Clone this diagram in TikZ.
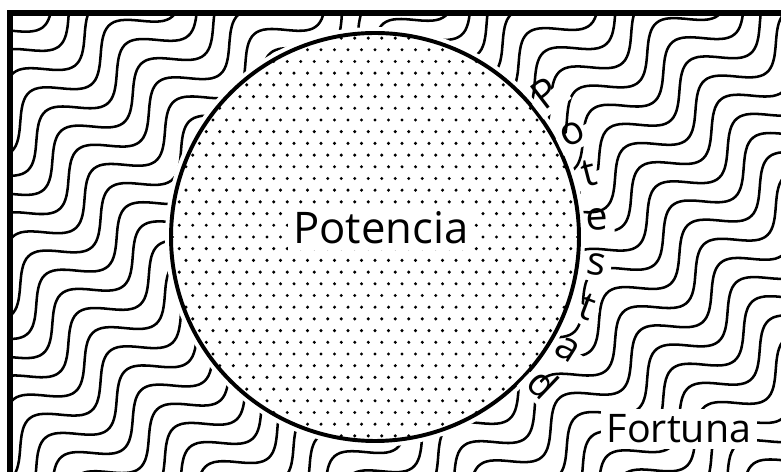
\documentclass[tikz,border=0pt]{standalone}
\usepackage{fontspec}
\setmainfont{Open Sans}
\usetikzlibrary{positioning}

\tikzset{
    wave/.style={line width=1.8pt, line cap=round},
    letter/.style={font=\fontsize{28}{28}\selectfont, fill=white, inner sep=4pt, text height=0.55em, text depth=0pt},
    bigword/.style={fill=white, inner sep=4pt},
}

\begin{document}
\begin{tikzpicture}[x=0.025cm, y=0.025cm]
    \useasboundingbox (0,0) rectangle (781,472);

    % Wavy background (Fortuna)
    \begin{scope}
        \clip (12,0) rectangle (781,456);
        \foreach \k in {-20,...,20} {
            \draw[wave] plot[smooth, domain=-480:480, samples=150]
                ({390 + \x*cos(40) - (\k*25 + 17*sin(\x*3.43))*sin(40)},
                 {236 + \x*sin(40) + (\k*25 + 17*sin(\x*3.43))*cos(40)});
        }
    \end{scope}

    % Frame (top and left edge only)
    \draw[line width=4.2pt] (10,-20) -- (10,459) -- (800,459);

    % Dotted disc
    \fill[white] (375,235) circle (210);
    \begin{scope}
        \clip (375,235) circle (204);
        \foreach \i in {-17,...,17} {
            \foreach \j in {-17,...,17} {
                \fill ({375 + 13.5*\j + 6.75*Mod(\i,2)}, {235 + 11.7*\i}) circle (1.7);
            }
        }
    \end{scope}
    \draw[line width=2.8pt] (375,235) circle (204);

    % Labels
    \node[bigword, font=\fontsize{31}{31}\selectfont] (potencia) at (381,244) {Potencia};
    \node[bigword, font=\fontsize{28}{28}\selectfont] (fortuna) at (679,43) {Fortuna};

    % Potestad round the rim
    \foreach \ch [count=\n] in {P,o,t,e,s,t,a,d} {
        \pgfmathsetmacro\ang{37.5 - 11.6*(\n-1)}
        \node[letter, rotate=\ang] (pot\n) at ({375 + 223*cos(\ang)}, {235 + 223*sin(\ang)}) {\ch};
    }
\end{tikzpicture}
\end{document}
